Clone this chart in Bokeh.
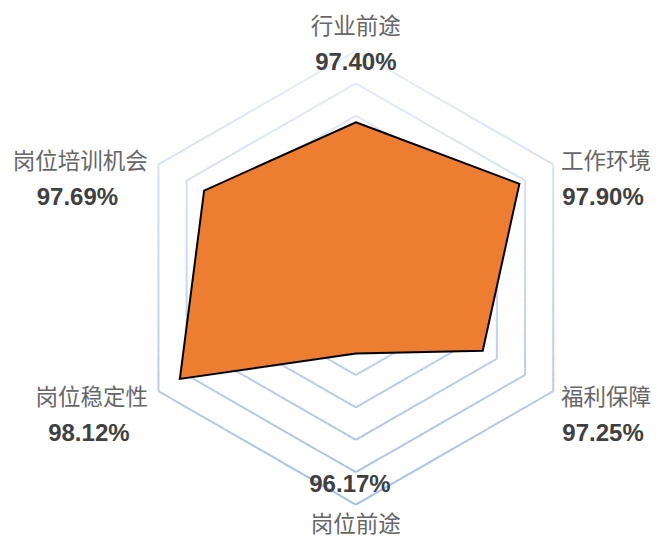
import math
from bokeh.plotting import figure
from bokeh.models import Range1d
from bokeh.core.properties import value
from bokeh.embed import file_html
from bokeh.resources import INLINE

# ---- data ----
categories = ["行业前途", "工作环境", "福利保障", "岗位前途", "岗位稳定性", "岗位培训机会"]
values = [97.40, 97.90, 97.25, 96.17, 98.12, 97.69]
axis_min = 95.0
axis_max = 98.5
axis_step = 0.5

# ---- geometry (data units ~ reference pixels, radar centre at 0,0) ----
R_OUTER = 233.5
N = len(categories)
angles = [math.pi / 2 - 2 * math.pi * i / N for i in range(N)]


def radius(v):
    return (v - axis_min) / (axis_max - axis_min) * R_OUTER


p = figure(width=656, height=541,
           x_range=Range1d(-364, 308), y_range=Range1d(-271.5, 285.5),
           x_axis_type=None, y_axis_type=None,
           output_backend="svg", toolbar_location=None,
           min_border=0, min_border_left=0, min_border_right=0,
           min_border_top=0, min_border_bottom=0)
p.grid.visible = False
p.outline_line_color = None
p.background_fill_color = "white"
p.border_fill_color = "white"

# ---- gridline rings with vertical colour gradient ----
top_col = (0xE8, 0xEE, 0xF8)
bot_col = (0xA6, 0xBE, 0xE6)


def col_at(y):
    t = (R_OUTER - y) / (2 * R_OUTER)
    t = max(0.0, min(1.0, t))
    c = [round(top_col[k] + (bot_col[k] - top_col[k]) * t) for k in range(3)]
    return "#%02x%02x%02x" % tuple(c)


x0s, y0s, x1s, y1s, cols = [], [], [], [], []
levels = []
lv = axis_min + axis_step
while lv <= axis_max + 1e-9:
    levels.append(lv)
    lv += axis_step
SUB = 30
for lv in levels:
    r = radius(lv)
    pts = [(r * math.cos(a), r * math.sin(a)) for a in angles]
    for i in range(N):
        ax, ay = pts[i]
        bx, by = pts[(i + 1) % N]
        for s in range(SUB):
            t0 = s / SUB
            t1 = (s + 1) / SUB
            xa, ya = ax + (bx - ax) * t0, ay + (by - ay) * t0
            xb, yb = ax + (bx - ax) * t1, ay + (by - ay) * t1
            x0s.append(xa); y0s.append(ya); x1s.append(xb); y1s.append(yb)
            cols.append(col_at((ya + yb) / 2))
p.segment(x0=x0s, y0=y0s, x1=x1s, y1=y1s, line_color=cols, line_width=2)

# ---- data polygon ----
px = [radius(v) * math.cos(a) for v, a in zip(values, angles)]
py = [radius(v) * math.sin(a) for v, a in zip(values, angles)]
p.patch(px, py, fill_color="#ED7D31", line_color="black", line_width=2,
        line_join="miter")

# ---- labels ----
LINE_GAP = 39
nx, ny, vx, vy, vtxt = [], [], [], [], []
for cat, v, a in zip(categories, values, angles):
    cx, cy = R_OUTER * math.cos(a), R_OUTER * math.sin(a)
    c, s = math.cos(a), math.sin(a)
    half_w = len(cat) * 23.5 / 2
    if abs(c) < 0.01:
        bx = cx
        if s > 0:
            by = cy + 8.5
            nx.append(bx); ny.append(by + LINE_GAP / 2)
            vx.append(bx); vy.append(by - LINE_GAP / 2)
        else:
            by = cy + 2
            nx.append(bx); ny.append(by - 40 / 2)
            vx.append(bx - 6); vy.append(by + 40 / 2)
    else:
        gap = 7 if c > 0 else 9.5
        bx = cx + (1 if c > 0 else -1) * (gap + half_w)
        by = cy + (-14 if s > 0 else -23)
        nx.append(bx); ny.append(by + LINE_GAP / 2)
        vx.append(bx - 3); vy.append(by - LINE_GAP / 2)
    vtxt.append(f"{v:.2f}%")

p.text(x=nx, y=ny, text=categories, text_align="center", text_baseline="middle",
       text_font=value("Noto Sans CJK SC"), text_font_size="22.5px",
       text_color="#666666")
p.text(x=vx, y=vy, text=vtxt, text_align="center", text_baseline="middle",
       text_font=value("Liberation Sans"), text_font_size="24px",
       text_font_style="bold", text_color="#404040")

open("out.html", "w").write(file_html(p, INLINE))
